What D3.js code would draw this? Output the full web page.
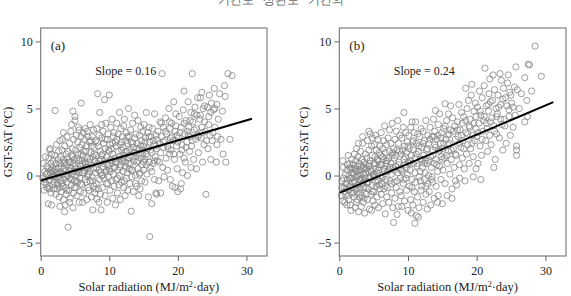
<!DOCTYPE html>
<html>
<head>
<meta charset="utf-8">
<script src="https://cdn.jsdelivr.net/npm/d3@7"></script>
<style>
  body { margin: 0; background: #fff; }
  svg { display: block; }
  text { font-family: "Liberation Serif", "DejaVu Serif", serif; fill: #222; }
</style>
</head>
<body>
<svg id="chart"></svg>
<script>
'use strict';

const xDomain = [0, 33];
const yDomain = [-6, 11];
const xTicks = [0, 10, 20, 30];
const yTicks = [-5, 0, 5, 10];
const panelLabels = ['(a)', '(b)'];
const slopeLabels = ['Slope = 0.16', 'Slope = 0.24'];
const xTitle = 'Solar radiation (MJ/m';
const yTitle = 'GST-SAT (\u00B0C)';
const headWords = ['\uAE30\uAC04\uB3C4', '\uC0C1\uAD00\uB3C4', '\uAE30\uAC04\uC758'];

// regression line ends
const fitA = [[0, -0.37], [30.8, 4.23]];
const fitB = [[0, -1.29], [31.15, 5.47]];

// (a) solar radiation vs GST-SAT
const pointsA = [
  [0.3,-0.2],[0.4,0.9],[0.5,-1.1],[0.6,0.3],[0.7,1.4],[0.8,-0.6],[0.8,0.1],[0.9,0.7],[0.5,-0.5],[0.9,-0.9],
  [1.1,-2.1],[1.1,0.5],[1.2,1.3],[1.2,-0.3],[1.3,1.9],[1.3,-0.8],[1.4,0.2],[1.5,-1.3],[1.5,0.9],[1.6,-2.2],[1.6,1.6],[1.7,-0.1],[1.7,0.6],[1.8,-0.7],[1.8,1.1],[1.9,0.0],[1.9,-1.0],[1.4,2.0],
  [2.0,0.4],[2.0,-0.5],[2.1,4.85],[2.1,1.5],[2.2,-1.4],[2.2,0.9],[2.3,2.3],[2.3,-0.2],[2.4,0.2],[2.4,-1.0],[2.5,1.2],[2.5,-0.7],[2.6,1.8],[2.6,0.6],[2.7,-1.6],[2.7,-0.1],[2.8,-2.3],[2.8,2.6],[2.8,0.9],[2.9,-0.4],[2.9,1.4],[2.9,0.2],
  [3.0,-1.2],[3.0,0.7],[3.1,1.9],[3.1,-0.6],[3.2,2.7],[3.2,0.1],[3.3,-1.8],[3.3,1.2],[3.4,0.5],[3.4,-0.3],[3.5,-2.7],[3.5,2.2],[3.5,1.0],[3.6,-0.9],[3.6,0.3],[3.7,1.6],[3.7,-1.4],[3.8,2.9],[3.8,0.0],[3.8,0.8],[3.9,-0.5],[3.9,1.3],[3.6,-2.2],[3.3,3.2],
  [4.0,-3.85],[4.0,1.8],[4.1,0.4],[4.1,-1.1],[4.2,2.4],[4.2,-0.2],[4.3,1.0],[4.3,-1.7],[4.4,0.6],[4.4,3.3],[4.5,-0.7],[4.5,1.5],[4.6,0.1],[4.6,2.0],[4.7,-2.4],[4.7,4.8],[4.7,0.9],[4.8,-1.3],[4.8,2.7],[4.9,0.3],[4.9,1.2],[4.5,3.8],[4.2,-2.0],[4.9,-0.4],
  [5.0,4.4],[5.0,4.1],[5.0,0.7],[5.1,-0.9],[5.1,1.9],[5.2,3.0],[5.2,0.0],[5.3,-1.5],[5.3,1.3],[5.4,2.5],[5.4,-0.5],[5.5,0.5],[5.5,3.6],[5.6,-2.0],[5.6,1.1],[5.7,2.1],[5.7,-0.2],[5.8,0.8],[5.8,-1.2],[5.9,5.4],[5.9,1.6],[5.9,2.9],[5.3,0.3],[5.6,3.4],
  [6.0,-0.7],[6.0,2.3],[6.1,0.9],[6.1,-2.0],[6.2,1.5],[6.2,3.2],[6.3,0.2],[6.3,-1.3],[6.4,2.7],[6.4,1.0],[6.5,-0.3],[6.5,3.5],[6.6,0.6],[6.6,1.8],[6.7,-1.8],[6.7,2.2],[6.8,0.0],[6.8,1.3],[6.9,-0.9],[6.9,2.9],[6.4,0.4],[6.8,3.3],
  [7.0,1.0],[7.0,-1.1],[7.1,2.5],[7.1,0.3],[7.2,3.8],[7.2,-0.4],[7.3,1.7],[7.4,-1.6],[7.4,0.8],[7.5,2.9],[7.5,-0.1],[7.6,-2.56],[7.6,1.4],[7.7,3.4],[7.7,0.5],[7.8,-0.8],[7.8,2.1],[7.9,1.1],[7.9,-1.3],[7.3,2.6],
  [8.0,0.2],[8.0,2.6],[8.1,-0.6],[8.1,1.5],[8.2,-1.75],[8.2,3.5],[8.3,6.1],[8.3,0.9],[8.4,-1.0],[8.4,2.2],[8.5,0.4],[8.5,3.0],[8.6,4.7],[8.6,-0.3],[8.7,1.8],[8.7,-1.4],[8.8,-2.56],[8.8,1.2],[8.9,2.8],[8.9,0.0],[8.5,-2.0],[8.9,3.8],
  [9.0,1.6],[9.0,-0.9],[9.1,0.6],[9.1,3.3],[9.2,-0.2],[9.2,2.4],[9.3,5.65],[9.3,1.1],[9.4,-1.5],[9.4,2.0],[9.5,0.3],[9.5,3.9],[9.6,-0.6],[9.6,1.4],[9.7,2.7],[9.7,-2.0],[9.8,0.8],[9.8,3.1],[9.9,-0.1],[9.9,1.9],
  [10.0,6.0],[10.0,0.5],[10.1,2.3],[10.1,-1.1],[10.2,1.2],[10.2,3.6],[10.3,-0.4],[10.3,2.0],[10.4,0.9],[10.4,4.2],[10.5,-1.7],[10.5,1.6],[10.6,2.9],[10.6,0.1],[10.7,-0.8],[10.7,3.2],[10.8,1.3],[10.9,-2.19],[10.9,2.5],[10.8,0.6],
  [11.0,1.0],[11.0,-0.3],[11.1,2.7],[11.1,3.9],[11.2,0.4],[11.2,-1.3],[11.3,1.8],[11.3,3.1],[11.4,-0.7],[11.5,4.7],[11.5,1.4],[11.5,0.0],[11.6,2.3],[11.6,-1.8],[11.7,0.8],[11.7,3.5],[11.8,1.9],[11.8,-0.5],[11.9,2.9],[11.9,1.1],
  [12.0,0.3],[12.0,2.1],[12.1,3.7],[12.1,-0.9],[12.2,1.5],[12.2,4.2],[12.3,0.7],[12.3,-1.5],[12.4,2.6],[12.4,1.0],[12.5,3.2],[12.5,-0.2],[12.6,1.8],[12.6,0.2],[12.7,2.4],[12.7,-1.1],[12.8,5.0],[12.8,1.3],[12.9,2.9],[12.9,0.5],
  [13.0,-0.6],[13.0,1.9],[13.1,3.4],[13.1,0.9],[13.2,-2.66],[13.2,2.5],[13.3,1.4],[13.3,-0.1],[13.4,3.9],[13.4,0.4],[13.5,2.1],[13.5,-1.2],[13.6,1.1],[13.7,4.5],[13.7,2.8],[13.8,0.0],[13.8,1.7],[13.9,3.1],
  [14.0,1.0],[14.0,-0.8],[14.1,2.4],[14.2,4.1],[14.2,0.5],[14.3,1.6],[14.3,-1.5],[14.4,3.0],[14.4,2.0],[14.5,0.2],[14.6,3.6],[14.6,1.3],[14.7,-0.4],[14.7,2.6],[14.8,0.8],[14.9,1.9],[14.9,3.3],[14.5,-1.0],
  [15.0,2.2],[15.0,0.4],[15.1,3.8],[15.2,1.2],[15.2,-0.5],[15.3,2.8],[15.4,4.7],[15.4,1.6],[15.5,0.1],[15.6,3.2],[15.6,2.0],[15.7,-1.6],[15.8,1.0],[15.9,-4.55],[15.9,2.5],[15.8,3.6],
  [16.0,0.6],[16.1,2.9],[16.2,-2.1],[16.2,1.7],[16.3,3.5],[16.4,0.9],[16.5,2.3],[16.6,4.6],[16.6,-0.3],[16.7,1.4],[16.8,3.0],[16.8,-1.3],[16.9,2.0],[16.9,-1.4],
  [17.0,1.1],[17.1,3.3],[17.2,-0.4],[17.3,2.4],[17.4,4.0],[17.5,1.7],[17.5,-1.3],[17.6,2.9],[17.7,7.6],[17.8,0.6],[17.9,3.6],[17.9,2.1],
  [18.0,-0.1],[18.1,2.6],[18.2,4.3],[18.3,1.3],[18.4,3.1],[18.5,0.4],[18.6,2.0],[18.7,5.0],[18.8,3.5],[18.8,1.6],[18.9,-0.3],[18.9,2.8],
  [19.0,1.9],[19.1,3.9],[19.2,-0.8],[19.3,2.6],[19.4,5.5],[19.5,1.2],[19.6,3.3],[19.6,-0.9],[19.7,4.6],[19.8,2.2],[19.9,0.5],[19.9,3.0],
  [20.0,-1.2],[20.1,2.8],[20.2,4.4],[20.3,1.6],[20.4,-1.0],[20.5,3.6],[20.6,2.3],[20.7,0.2],[20.8,4.9],[20.9,6.3],[20.9,1.3],[20.5,-0.6],
  [21.0,3.1],[21.1,1.0],[21.2,4.1],[21.3,2.5],[21.4,0.0],[21.5,5.5],[21.6,3.6],[21.7,1.8],[21.8,2.9],[21.9,4.7],[21.9,0.6],[21.4,3.3],
  [22.0,2.2],[22.1,7.6],[22.2,4.0],[22.3,1.2],[22.4,3.4],[22.5,5.1],[22.6,2.7],[22.7,0.5],[22.8,4.5],[22.9,3.0],[22.9,5.8],
  [23.0,1.7],[23.2,4.2],[23.3,5.8],[23.4,2.8],[23.5,3.6],[23.6,1.0],[23.7,5.0],[23.8,2.3],[23.9,4.0],[23.5,6.2],
  [24.0,3.3],[24.1,-1.4],[24.3,5.1],[24.4,2.0],[24.5,4.4],[24.6,6.0],[24.7,3.0],[24.8,1.2],[24.9,5.4],
  [25.0,2.6],[25.2,4.9],[25.3,6.5],[25.4,3.6],[25.6,1.0],[25.7,5.3],[25.8,2.9],[25.9,4.2],
  [26.1,6.1],[26.3,2.7],[26.5,4.8],[26.8,6.7],[26.9,5.9],[26.6,1.6],[27.0,1.0],
  [27.3,7.6],[27.6,2.7],[27.9,7.45],
  // dense core, second pass
  [0.6,-0.3],[1.0,0.2],[1.2,-1.0],[1.5,0.4],[1.8,0.3],[2.0,-0.1],[2.2,0.5],[2.4,-0.6],[2.6,0.1],[2.8,-0.9],
  [3.0,0.2],[3.2,-0.8],[3.4,0.9],[3.6,-0.1],[3.8,-1.1],[4.0,0.0],[4.1,1.0],[4.3,0.3],[4.5,-0.3],[4.7,1.4],
  [4.9,-0.9],[5.1,0.5],[5.2,-0.4],[5.4,1.6],[5.6,0.2],[5.8,-0.6],[6.0,1.1],[6.1,0.2],[6.3,1.8],[6.5,0.9],
  [6.7,-0.5],[6.9,0.6],[7.0,0.1],[7.2,1.2],[7.4,2.2],[7.6,-0.4],[7.8,1.6],[8.0,-1.0],[8.1,0.6],[8.3,2.5],
  [8.5,1.1],[8.7,0.2],[8.9,1.5],[9.0,0.0],[9.2,0.9],[9.4,2.7],[9.6,0.4],[9.8,-0.6],[10.0,1.8],[10.1,0.3],
  [10.3,1.1],[10.5,2.4],[10.7,0.6],[10.9,1.0],[11.0,2.2],[11.2,-0.2],[11.4,1.2],[11.6,0.6],[11.8,2.5],[12.0,1.3],
  [12.2,-0.4],[12.4,1.8],[12.6,2.9],[12.8,0.9],[13.0,1.5],[13.2,0.4],[13.4,2.4],[13.6,1.7],[13.8,-0.6],[14.0,2.0],
  [14.2,1.1],[14.4,0.1],[14.6,2.2],[14.8,1.6],[15.0,1.0],[15.2,2.5],[15.4,0.8],[15.6,1.4],[15.8,2.9],[16.0,1.9],
  [16.2,0.3],[16.4,2.6],[16.6,1.1],[16.8,2.2],[17.0,2.7],[17.3,1.0],[17.6,3.9],[17.9,2.5],[18.2,3.3],[18.5,2.2],
  [18.8,4.0],[19.1,2.9],[19.4,1.6],[19.7,3.7],[20.0,2.5],[20.3,3.2],[20.6,1.9],[20.9,3.9],[21.2,2.1],[21.5,3.0],
  [21.8,4.1],[22.1,2.6],[22.4,4.6],[22.7,3.5],[23.0,2.9],[23.3,4.5],[23.6,3.2],[23.9,5.2],[24.2,2.6],[24.5,3.8],
  [24.8,4.7],[25.1,3.2],[25.4,5.0],[25.7,2.3]
];

// (b) solar radiation vs GST-SAT
const pointsB = [
  [0.3,-1.5],[0.4,-0.4],[0.5,-1.9],[0.6,0.6],[0.7,-0.9],[0.8,-1.2],[0.9,0.1],[0.5,1.1],[0.8,-2.0],[0.9,-0.6],
  [1.0,-1.0],[1.1,0.4],[1.1,-2.2],[1.2,-0.3],[1.3,1.5],[1.3,-1.5],[1.4,0.0],[1.5,-0.8],[1.5,0.9],[1.6,-2.2],[1.6,-0.2],[1.7,0.5],[1.8,-1.3],[1.8,1.2],[1.9,-0.5],[1.9,0.2],[1.4,-1.8],[1.7,-2.6],
  [2.0,-0.9],[2.0,0.8],[2.1,-1.6],[2.1,0.1],[2.2,1.6],[2.2,-0.4],[2.3,-2.4],[2.3,0.5],[2.4,-1.1],[2.4,1.1],[2.5,-0.1],[2.5,2.0],[2.6,-1.8],[2.6,0.3],[2.7,-0.7],[2.7,1.4],[2.8,-2.7],[2.8,0.0],[2.9,0.9],[2.9,-1.3],[2.5,-2.0],[2.8,2.4],
  [3.0,0.4],[3.0,-1.0],[3.1,1.8],[3.1,-0.3],[3.2,-2.3],[3.2,0.7],[3.3,-1.5],[3.3,1.2],[3.4,-0.6],[3.4,2.4],[3.5,0.1],[3.5,-2.0],[3.6,1.0],[3.6,-0.9],[3.7,0.5],[3.7,-2.8],[3.8,1.6],[3.8,-0.2],[3.9,-1.4],[3.9,0.8],[3.4,2.9],[3.6,-1.7],
  [4.0,-0.5],[4.0,1.3],[4.1,2.6],[4.1,-1.8],[4.2,0.3],[4.2,-1.0],[4.3,1.9],[4.3,0.7],[4.4,-2.5],[4.4,-0.2],[4.5,1.1],[4.5,3.1],[4.6,-1.4],[4.6,0.4],[4.7,-2.6],[4.7,2.2],[4.8,-0.7],[4.8,1.5],[4.9,0.0],[4.9,-1.9],[4.3,3.3],[4.8,2.8],
  [5.0,0.9],[5.0,-1.2],[5.1,2.3],[5.1,-0.1],[5.2,-2.2],[5.2,1.4],[5.3,0.5],[5.3,3.0],[5.4,-0.8],[5.4,1.9],[5.5,-1.6],[5.5,0.2],[5.6,2.7],[5.6,1.1],[5.7,-0.4],[5.7,-2.4],[5.8,1.7],[5.8,0.6],[5.9,-1.0],[5.9,2.2],
  [6.0,0.0],[6.0,1.5],[6.1,-1.4],[6.1,3.2],[6.2,0.8],[6.2,-0.6],[6.3,2.0],[6.3,-2.1],[6.4,1.2],[6.5,-1.0],[6.5,2.6],[6.6,0.3],[6.6,3.7],[6.7,-2.86],[6.7,1.7],[6.8,-0.3],[6.8,0.9],[6.9,2.3],[6.9,-1.6],[6.4,-0.1],
  [7.0,1.1],[7.0,-0.9],[7.1,2.8],[7.2,0.4],[7.2,-2.0],[7.3,1.8],[7.3,3.4],[7.4,-0.4],[7.5,0.9],[7.5,2.4],[7.6,-1.3],[7.6,0.1],[7.7,3.9],[7.7,1.5],[7.8,-2.4],[7.9,-3.5],[7.9,2.0],[7.8,0.6],
  [8.0,-0.5],[8.0,1.3],[8.1,2.7],[8.1,-1.7],[8.2,0.7],[8.3,3.3],[8.3,-0.9],[8.4,1.9],[8.5,4.1],[8.5,0.2],[8.6,-2.3],[8.6,2.4],[8.7,1.0],[8.8,-1.2],[8.8,3.0],[8.9,0.5],[8.9,-0.2],[8.4,-2.9],
  [9.0,1.6],[9.0,-1.5],[9.1,-2.3],[9.1,2.8],[9.2,0.3],[9.3,3.6],[9.3,-0.6],[9.4,4.7],[9.4,1.2],[9.5,-1.9],[9.5,2.2],[9.6,0.8],[9.7,-0.2],[9.7,3.2],[9.8,1.7],[9.8,-1.1],[9.9,2.5],[9.9,0.1],
  [10.0,1.0],[10.0,-2.6],[10.1,3.0],[10.2,-0.8],[10.2,2.0],[10.3,0.4],[10.4,-1.8],[10.4,3.6],[10.5,1.5],[10.6,4.0],[10.6,-0.3],[10.7,2.5],[10.7,-2.2],[10.8,0.9],[10.9,3.2],[10.9,-1.2],[10.5,-2.8],[10.8,1.9],
  [11.0,-3.56],[11.0,1.3],[11.1,4.0],[11.1,-0.5],[11.2,-2.99],[11.2,2.4],[11.3,0.7],[11.4,-1.6],[11.4,3.1],[11.5,1.8],[11.6,-0.1],[11.6,-2.4],[11.7,2.9],[11.8,0.3],[11.8,1.2],[11.9,-1.1],[11.9,3.5],[11.5,-3.1],
  [12.0,2.1],[12.0,-0.8],[12.1,0.6],[12.2,3.3],[12.2,-2.0],[12.3,1.5],[12.4,-0.3],[12.4,2.6],[12.5,0.2],[12.6,4.1],[12.6,-1.4],[12.7,1.9],[12.8,0.9],[12.8,-2.5],[12.9,3.0],[12.9,-0.6],[12.5,1.1],
  [13.0,2.4],[13.0,0.0],[13.1,-1.2],[13.2,3.6],[13.3,1.4],[13.3,-2.2],[13.4,0.6],[13.5,2.9],[13.6,-0.5],[13.6,1.9],[13.7,4.2],[13.8,0.9],[13.8,-1.7],[13.9,2.3],[13.9,3.3],[13.5,-0.1],
  [14.0,4.85],[14.0,1.2],[14.1,-0.8],[14.2,2.7],[14.3,0.3],[14.4,3.8],[14.4,-1.5],[14.5,1.8],[14.6,4.6],[14.6,0.7],[14.7,2.4],[14.8,-0.3],[14.9,3.2],[14.9,1.4],[14.3,-2.0],
  [15.0,-2.1],[15.0,2.0],[15.1,0.4],[15.2,3.5],[15.3,1.3],[15.4,5.35],[15.4,-0.6],[15.5,2.7],[15.6,4.1],[15.7,0.9],[15.7,-1.5],[15.8,3.0],[15.9,1.8],[15.9,4.6],
  [16.0,2.4],[16.1,0.1],[16.2,5.2],[16.2,3.4],[16.3,1.2],[16.4,-1.0],[16.5,4.3],[16.6,2.0],[16.7,0.6],[16.8,3.7],[16.9,-0.4],[16.9,2.7],[16.4,-1.7],
  [17.0,1.5],[17.1,-0.7],[17.2,4.0],[17.3,2.9],[17.4,5.3],[17.5,0.8],[17.6,3.4],[17.7,2.1],[17.8,4.7],[17.9,1.3],[17.5,-0.2],[17.9,3.9],
  [18.0,2.6],[18.1,4.4],[18.2,0.5],[18.4,6.5],[18.4,3.2],[18.5,1.6],[18.6,5.0],[18.7,2.3],[18.8,5.6],[18.9,3.7],[18.9,0.9],[18.3,-0.4],
  [19.0,4.2],[19.1,2.0],[19.2,6.0],[19.3,6.8],[19.4,3.0],[19.5,-0.1],[19.5,1.4],[19.6,4.8],[19.7,2.6],[19.8,5.4],[19.9,3.5],[19.9,0.5],
  [20.0,2.9],[20.1,5.1],[20.2,0.9],[20.3,3.9],[20.4,6.3],[20.5,2.2],[20.6,4.5],[20.7,1.5],[20.8,5.8],[20.9,3.3],[20.6,-0.3],
  [21.0,4.1],[21.1,6.7],[21.2,8.0],[21.3,2.6],[21.4,5.2],[21.5,3.5],[21.6,1.8],[21.7,4.8],[21.8,6.1],[21.9,7.2],[21.9,3.0],
  [22.0,5.5],[22.1,2.3],[22.2,4.3],[22.4,7.5],[22.5,3.7],[22.6,6.4],[22.7,1.2],[22.8,5.0],[22.9,3.1],[22.5,0.6],
  [23.0,4.6],[23.1,6.0],[23.3,2.8],[23.4,7.6],[23.5,5.3],[23.6,7.1],[23.7,3.8],[23.8,1.9],[23.9,6.5],
  [24.0,4.2],[24.2,5.8],[24.3,2.4],[24.5,6.9],[24.6,7.5],[24.7,4.9],[24.9,3.0],[24.8,6.2],
  [25.1,5.4],[25.3,3.6],[25.5,6.6],[25.7,8.1],[25.8,2.2],[25.8,1.9],[25.8,1.5],[25.9,6.4],[25.6,4.5],
  [26.2,5.0],[26.5,6.1],[27.0,7.3],[27.0,4.0],[27.3,5.6],[27.5,8.3],[27.7,8.25],[27.4,4.4],[28.5,9.65],[29.4,7.4],[28.0,6.3],
  // dense core, second pass
  [0.4,-0.9],[0.6,-0.2],[0.9,-1.4],[1.1,-0.6],[1.2,0.8],[1.4,-1.1],[1.6,0.6],[1.8,-0.2],[2.0,-1.3],[2.1,0.5],
  [2.3,-0.5],[2.4,0.3],[2.6,-1.0],[2.7,0.7],[2.9,-0.3],[3.0,-1.6],[3.1,0.1],[3.3,-0.2],[3.5,0.6],[3.6,-0.4],
  [3.8,0.2],[3.9,-0.9],[4.0,0.5],[4.2,-0.5],[4.4,0.9],[4.5,-0.1],[4.7,0.3],[4.8,-1.2],[5.0,0.1],[5.2,0.9],
  [5.3,-0.5],[5.5,1.2],[5.7,0.4],[5.8,-0.7],[6.0,0.8],[6.2,-0.2],[6.3,1.4],[6.5,0.5],[6.7,-0.8],[6.8,1.1],
  [7.0,0.3],[7.2,1.3],[7.4,0.6],[7.6,-0.6],[7.8,1.7],[8.0,0.4],[8.2,1.5],[8.4,-0.4],[8.6,0.8],[8.8,1.8],
  [9.0,0.4],[9.2,1.9],[9.4,-0.3],[9.6,1.4],[9.8,0.6],[10.0,2.2],[10.2,0.9],[10.4,1.1],[10.6,-0.9],[10.8,2.6],
  [11.0,0.2],[11.2,1.6],[11.4,0.9],[11.6,2.2],[11.8,-0.4],[12.0,1.2],[12.2,2.4],[12.4,0.9],[12.6,-0.8],[12.8,2.0],
  [13.0,1.1],[13.2,2.7],[13.4,-0.3],[13.6,1.5],[13.8,2.9],[14.0,2.1],[14.2,0.8],[14.4,3.0],[14.6,1.9],[14.8,2.8],
  [15.0,1.2],[15.2,2.4],[15.4,3.7],[15.6,1.5],[15.8,2.3],[16.0,3.1],[16.3,1.9],[16.6,3.3],[16.9,1.6],[17.2,3.4],
  [17.5,2.4],[17.8,3.0],[18.1,2.0],[18.4,4.1],[18.7,3.1],[19.0,3.6],[19.3,2.4],[19.6,3.9],[19.9,4.4],[20.2,3.2],
  [20.5,4.8],[20.8,2.7],[21.1,4.4],[21.4,3.9],[21.7,5.3],[22.0,4.0],[22.3,5.6],[22.6,3.3],[22.9,4.4],[23.2,5.1],
  [23.5,4.2],[23.8,5.7],[24.1,3.7],[24.4,5.2],[24.7,4.4],[25.0,6.0],[25.3,5.1]
];

const width = 571;
const height = 296;
const plotTop = 28;
const plotBottom = 256;
const panels = [
  { left: 40.7, right: 267, points: pointsA, fit: fitA, yTitleX: 12 },
  { left: 339.3, right: 566, points: pointsB, fit: fitB, yTitleX: 308 },
];

const svg = d3.select('#chart')
  .attr('width', width)
  .attr('height', height);

// caption of the page above, cut off at the top edge as in the scan
svg.selectAll('text.head')
  .data(headWords)
  .enter()
  .append('text')
  .attr('class', 'head')
  .attr('x', (d, i) => 218 + i * 45)
  .attr('y', 4)
  .attr('font-family', '"Noto Sans CJK KR", sans-serif')
  .attr('font-size', '12px')
  .style('fill', '#666')
  .text((d) => d);

panels.forEach((p, i) => {
  const x = d3.scaleLinear().domain(xDomain).range([p.left, p.right]);
  const y = d3.scaleLinear().domain(yDomain).range([plotBottom, plotTop]);
  const g = svg.append('g');

  g.append('g')
    .selectAll('circle')
    .data(p.points)
    .enter()
    .append('circle')
    .attr('cx', (d) => x(d[0]))
    .attr('cy', (d) => y(d[1]))
    .attr('r', 3.1)
    .attr('fill', 'none')
    .attr('stroke', '#858585')
    .attr('stroke-width', 0.8);

  g.append('path')
    .datum(p.fit)
    .attr('d', d3.line().x((d) => x(d[0])).y((d) => y(d[1])))
    .attr('fill', 'none')
    .attr('stroke', '#000')
    .attr('stroke-width', 2);

  g.append('rect')
    .attr('x', p.left)
    .attr('y', plotTop)
    .attr('width', p.right - p.left)
    .attr('height', plotBottom - plotTop)
    .attr('fill', 'none')
    .attr('stroke', '#666')
    .attr('stroke-width', 1);

  const xAxis = g.append('g')
    .attr('transform', `translate(0,${plotBottom})`)
    .call(d3.axisBottom(x).tickValues(xTicks).tickSize(5).tickPadding(5));
  const yAxis = g.append('g')
    .attr('transform', `translate(${p.left},0)`)
    .call(d3.axisLeft(y).tickValues(yTicks).tickSize(5).tickPadding(3));

  [xAxis, yAxis].forEach((a) => {
    a.select('.domain').remove();
    a.selectAll('line').attr('stroke', '#666');
    a.selectAll('text')
      .attr('font-family', '"Liberation Serif", serif')
      .attr('font-size', '12px')
      .style('fill', '#222');
  });

  g.append('text')
    .attr('x', p.left + 10)
    .attr('y', 50)
    .attr('font-size', '13px')
    .text(panelLabels[i]);

  g.append('text')
    .attr('x', p.left + 85)
    .attr('y', 75)
    .attr('text-anchor', 'middle')
    .attr('font-size', '12px')
    .text(slopeLabels[i]);

  const xt = g.append('text')
    .attr('x', (p.left + p.right) / 2 - 5)
    .attr('y', 291)
    .attr('text-anchor', 'middle')
    .attr('font-size', '12.5px');
  xt.append('tspan').text(xTitle);
  xt.append('tspan').attr('dy', -4).attr('font-size', '8px').text('2');
  xt.append('tspan').attr('dy', 4).text('\u00B7day)');

  g.append('text')
    .attr('transform', `translate(${p.yTitleX},${(plotTop + plotBottom) / 2}) rotate(-90)`)
    .attr('text-anchor', 'middle')
    .attr('font-size', '12px')
    .text(yTitle);
});
</script>
</body>
</html>
